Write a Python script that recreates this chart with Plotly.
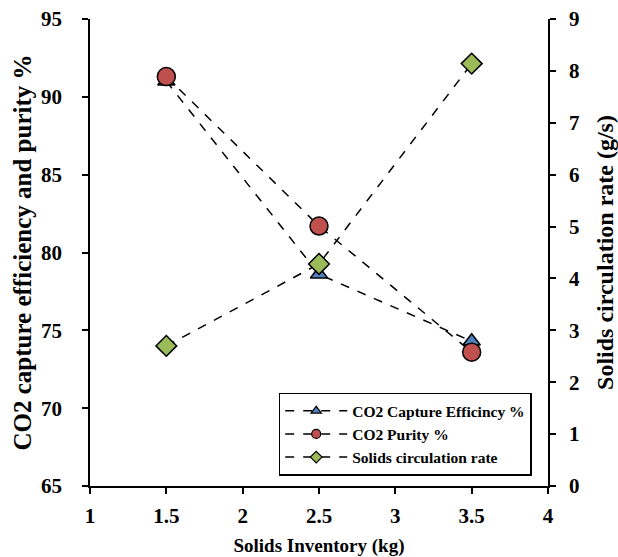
import plotly.graph_objects as go

inventory = [1.5, 2.5, 3.5]
capture_eff = [91.0, 78.6, 74.3]
purity = [91.3, 81.7, 73.6]
circulation = [2.7, 4.28, 8.14]

x_ticks = [1, 1.5, 2, 2.5, 3, 3.5, 4]
x_ticklabels = ["1", "1.5", "2", "2.5", "3", "3.5", "4"]

series_names = ["CO2 Capture Efficincy %", "CO2 Purity %", "Solids circulation rate"]
symbols = ["triangle-up", "circle", "diamond"]
colors = ["#4F81BD", "#C0504D", "#9BBB59"]
sizes = [15, 18, 16]

FONT = "Liberation Serif"
fig = go.Figure()

ys = [capture_eff, purity, circulation]
axes = ["y", "y", "y2"]
for name, y, ax, sym, col, sz in zip(series_names, ys, axes, symbols, colors, sizes):
    fig.add_trace(go.Scatter(
        x=inventory, y=y, name=name, yaxis=ax, showlegend=False,
        mode="lines+markers",
        line=dict(color="black", width=1.5, dash="dash"),
        marker=dict(symbol=sym, size=sz, color=col, line=dict(color="black", width=1.5)),
    ))

# legend-only entries with small markers (as in the reference legend)
for name, sym, col in zip(series_names, symbols, colors):
    fig.add_trace(go.Scatter(
        x=[None], y=[None], name="<b>%s</b>" % name, mode="lines+markers",
        line=dict(color="black", width=1.5, dash="dash"),
        marker=dict(symbol=sym, size=9, color=col, line=dict(color="black", width=1.2)),
    ))

tickfont = dict(family=FONT, size=21, color="black")

fig.update_layout(
    width=618, height=557,
    margin=dict(l=90, r=70, t=19, b=71),
    paper_bgcolor="white", plot_bgcolor="white",
    font=dict(family=FONT, color="black"),
    showlegend=True,
    legend=dict(x=0.412, y=0.022, xanchor="left", yanchor="bottom",
                bgcolor="white", bordercolor="black", borderwidth=1.5,
                font=dict(family=FONT, size=15.5, color="black"),
                tracegroupgap=0, itemwidth=62),
    xaxis=dict(range=[1, 4], tickvals=x_ticks, ticktext=["<b>%s</b>" % t for t in x_ticklabels],
               showgrid=False, zeroline=False, showline=True, linecolor="black", linewidth=1.5,
               ticks="outside", ticklen=6, tickwidth=1.5, tickcolor="black",
               tickfont=tickfont, ticklabelstandoff=4, automargin=False,
               title=dict(text="<b>Solids Inventory (kg)</b>",
                          font=dict(family=FONT, size=19, color="black"), standoff=12)),
    yaxis=dict(range=[65, 95], dtick=5, showgrid=False, zeroline=False, showline=True,
               linecolor="black", linewidth=1.5, ticks="outside", ticklen=6, tickwidth=1.5,
               tickcolor="black", tickfont=tickfont, tickprefix="<b>", ticksuffix="</b>",
               ticklabelstandoff=16, automargin=False,
               title=dict(text="<b>CO2 capture efficiency and purity %</b>",
                          font=dict(family=FONT, size=25, color="black"), standoff=2)),
    yaxis2=dict(range=[0, 9], dtick=1, overlaying="y", side="right", showgrid=False,
                zeroline=False, showline=True, linecolor="black", linewidth=1.5,
                ticks="outside", ticklen=6, tickwidth=1.5, tickcolor="black",
                tickfont=tickfont, tickprefix="<b>", ticksuffix="</b>",
                ticklabelstandoff=9, automargin=False,
                title=dict(text="<b>Solids circulation rate (g/s)</b>",
                           font=dict(family=FONT, size=24, color="black"), standoff=20)),
)

fig.write_html("out.html")
